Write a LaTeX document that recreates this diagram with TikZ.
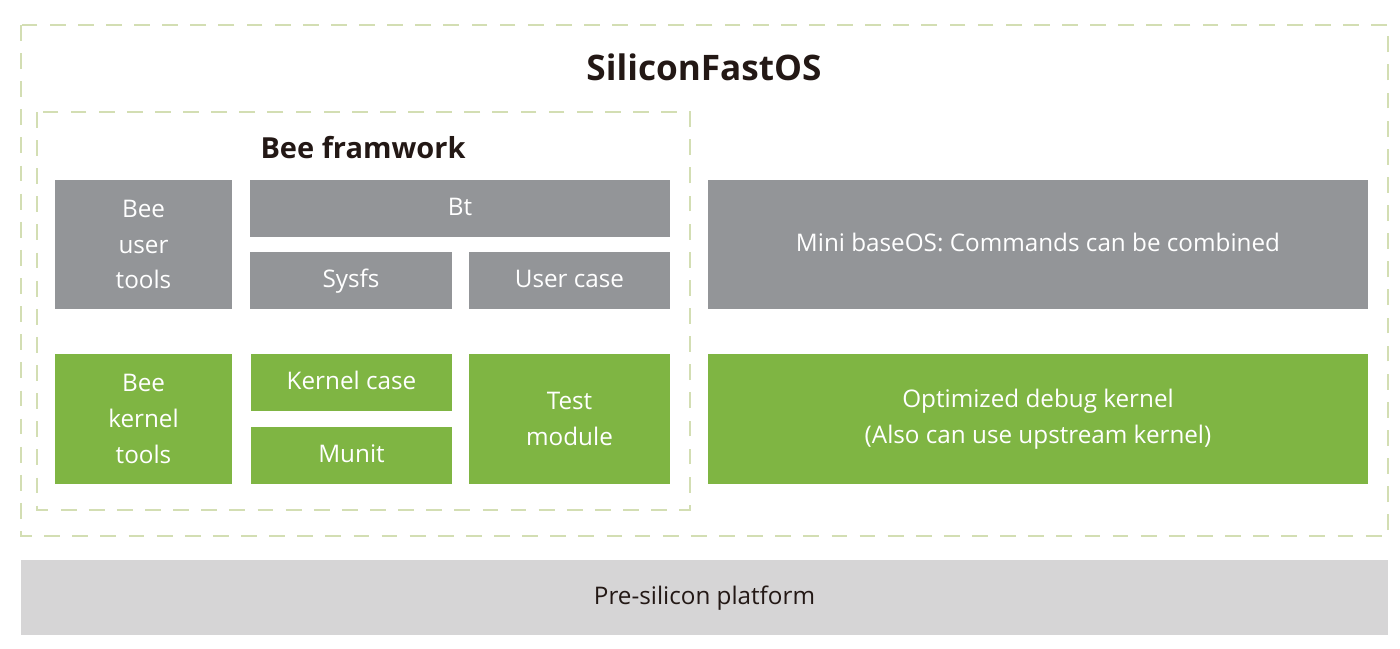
\documentclass[tikz,border=0pt]{standalone}
\usepackage{fontspec}
\setmainfont{Open Sans}
\usepackage{xcolor}
\definecolor{block-gray}{HTML}{939598}
\definecolor{block-green}{HTML}{7FB543}
\definecolor{dash-green}{HTML}{D3DEB3}
\definecolor{base-gray}{HTML}{D6D5D6}
\definecolor{ink}{HTML}{231815}

\begin{document}
\begin{tikzpicture}[
      every node/.style={font=\fontsize{13.8}{20.4}\selectfont},
      graybox/.style={fill=block-gray, text=white, minimum height=1.14cm, align=center, inner sep=0pt},
      greenbox/.style={fill=block-green, text=white, minimum height=1.14cm, align=center, inner sep=0pt},
      onerow/.style={text height=1.8ex, text depth=0.3ex},
      frame/.style={draw=dash-green, line width=0.8pt, dash pattern=on 9pt off 7pt}]
    \useasboundingbox (0,0) rectangle (28,-12.96);
    % outer and inner frames
    \draw[frame] (0.42,-0.5) rectangle (27.76,-10.72);
    \node[font=\fontsize{20}{24}\selectfont\bfseries, text=ink] (OS) at (14.08,-1.34) {SiliconFastOS};
    \draw[frame] (0.74,-2.24) rectangle (13.8,-10.2);
    \node[font=\fontsize{16.5}{20}\selectfont\bfseries, text=ink] (BEE) at (7.26,-2.96) {Bee framwork};
    % user side
    \node[graybox, minimum width=3.54cm, minimum height=2.58cm] (UT) at (2.87,-4.89) {Bee\\user\\tools};
    \node[graybox, onerow, minimum width=8.4cm] (BT) at (9.2,-4.17) {Bt};
    \node[graybox, onerow, minimum width=4.04cm] (SYS) at (7.02,-5.61) {Sysfs};
    \node[graybox, onerow, minimum width=4.02cm] (UC) at (11.39,-5.61) {User case};
    \node[graybox, onerow, minimum width=13.2cm, minimum height=2.58cm] (MINI) at (20.76,-4.89) {Mini baseOS: Commands can be combined};
    % kernel side
    \node[greenbox, minimum width=3.54cm, minimum height=2.6cm] (KT) at (2.87,-8.38) {Bee\\kernel\\tools};
    \node[greenbox, onerow, minimum width=4.02cm] (KC) at (7.03,-7.65) {Kernel case};
    \node[greenbox, onerow, minimum width=4.02cm] (MU) at (7.03,-9.11) {Munit};
    \node[greenbox, minimum width=4.02cm, minimum height=2.6cm] (TM) at (11.39,-8.38) {Test\\module};
    \node[greenbox, minimum width=13.2cm, minimum height=2.6cm] (DK) at (20.76,-8.38) {Optimized debug kernel\\(Also can use upstream kernel)};
    % platform
    \node[fill=base-gray, text=ink, onerow, minimum width=27.34cm, minimum height=1.5cm, inner sep=0pt] (PS) at (14.09,-11.95) {Pre-silicon platform};
  \end{tikzpicture}
\end{document}
